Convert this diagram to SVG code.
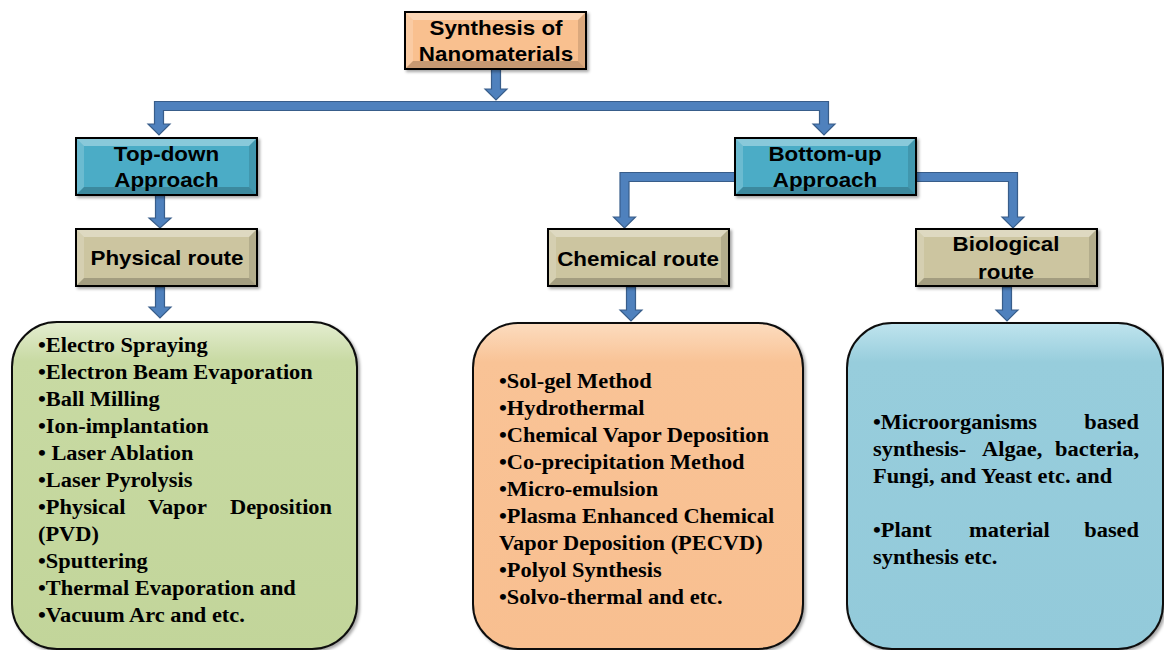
<svg xmlns="http://www.w3.org/2000/svg" xmlns:xlink="http://www.w3.org/1999/xlink" width="1164" height="650" viewBox="0 0 1164 650">
<style>
.lbl{font-family:"Liberation Sans",Arial,sans-serif;font-weight:bold;font-size:20px;fill:#000;text-anchor:middle}
.lst{font-family:"Liberation Serif","Times New Roman",serif;font-weight:bold;font-size:20px;fill:#000}
.box{stroke:#000;stroke-width:2}
.rbox{stroke:#111;stroke-width:2}
.bt{fill:#fff;opacity:.35}
.bl{fill:#fff;opacity:.18}
.br{fill:#000;opacity:.12}
.bb{fill:#000;opacity:.2}
.conn{fill:#4F81BD;stroke:#385D8A;stroke-width:1.2;stroke-linejoin:miter}
</style>
<defs>
<filter id="sh" x="-10%" y="-10%" width="130%" height="130%">
<feDropShadow dx="2" dy="2" stdDeviation="1.5" flood-color="#000" flood-opacity="0.35"/>
</filter>
<g id="bevel">
<polygon class="bt" points="0,0 181,0 173,8 8,8"/>
<polygon class="bl" points="0,0 8,8 8,49 0,57"/>
<polygon class="br" points="181,0 181,57 173,49 173,8"/>
<polygon class="bb" points="0,57 8,49 173,49 181,57"/>
</g>
<linearGradient id="gGreen" x1="0" y1="0" x2="0" y2="1">
<stop offset="0" stop-color="#E4EDD0"/><stop offset="0.12" stop-color="#C8DAA3"/><stop offset="1" stop-color="#C2D59A"/>
</linearGradient>
<linearGradient id="gOrange" x1="0" y1="0" x2="0" y2="1">
<stop offset="0" stop-color="#FCDCBF"/><stop offset="0.12" stop-color="#F9C396"/><stop offset="1" stop-color="#F8BF90"/>
</linearGradient>
<linearGradient id="gBlue" x1="0" y1="0" x2="0" y2="1">
<stop offset="0" stop-color="#BFE4EE"/><stop offset="0.12" stop-color="#97CDDC"/><stop offset="1" stop-color="#93CADA"/>
</linearGradient>
</defs>
<rect width="1164" height="650" fill="#fff"/>

<g id="connectors">
<path class="conn" d="M491.5,68 H500.5 V89 H507 L496,100 L485,89 H491.5 Z"/>
<path class="conn" d="M154.5,124 V101.5 H828.5 V124 H835 L824,135 L813,124 H819.5 V110.5 H163.5 V124 H170 L159,135 L148,124 Z"/>
<path class="conn" d="M155.5,195 V218 H149 L160,228 L171,218 H164.5 V195 Z"/>
<path class="conn" d="M155.5,287 V307 H149 L160,318 L171,307 H164.5 V287 Z"/>
<path class="conn" d="M735,172.5 H620 V217 H613.5 L624.5,228 L635.5,217 H629 V181.5 H735 Z"/>
<path class="conn" d="M915,172.5 H1017.5 V217 H1024 L1013,228 L1002,217 H1008.5 V181.5 H915 Z"/>
<path class="conn" d="M626.5,287 V310 H620 L631,321 L642,310 H635.5 V287 Z"/>
<path class="conn" d="M1002.5,287 V310 H996 L1007,321 L1018,310 H1011.5 V287 Z"/>
</g>

<g id="synthesis">
<rect class="box" x="405" y="12" width="181" height="57" fill="#F9C08F" filter="url(#sh)"/>
<use xlink:href="#bevel" x="405" y="12"/>
<rect x="405" y="12" width="181" height="57" fill="none" stroke="#000" stroke-width="2"/>
<text class="lbl" transform="scale(1.12 1)"><tspan x="442.86" y="35">Synthesis of</tspan><tspan x="442.86" y="61">Nanomaterials</tspan></text>
</g>

<g id="topdown">
<rect class="box" x="76" y="138" width="181" height="57" fill="#4BACC6" filter="url(#sh)"/>
<use xlink:href="#bevel" x="76" y="138"/>
<rect x="76" y="138" width="181" height="57" fill="none" stroke="#000" stroke-width="2"/>
<text class="lbl" transform="scale(1.12 1)"><tspan x="148.66" y="161">Top-down</tspan><tspan x="148.66" y="187">Approach</tspan></text>
</g>

<g id="bottomup">
<rect class="box" x="735" y="138" width="181" height="57" fill="#4BACC6" filter="url(#sh)"/>
<use xlink:href="#bevel" x="735" y="138"/>
<rect x="735" y="138" width="181" height="57" fill="none" stroke="#000" stroke-width="2"/>
<text class="lbl" transform="scale(1.12 1)"><tspan x="736.61" y="161">Bottom-up</tspan><tspan x="736.61" y="187">Approach</tspan></text>
</g>

<g id="physical">
<rect class="box" x="76" y="229" width="181" height="57" fill="#CCC5A0" filter="url(#sh)"/>
<use xlink:href="#bevel" x="76" y="229"/>
<rect x="76" y="229" width="181" height="57" fill="none" stroke="#000" stroke-width="2"/>
<text class="lbl" transform="scale(1.12 1)" x="149.11" y="265">Physical route</text>
</g>

<g id="chemical">
<rect class="box" x="548" y="229" width="181" height="57" fill="#CCC5A0" filter="url(#sh)"/>
<use xlink:href="#bevel" x="548" y="229"/>
<rect x="548" y="229" width="181" height="57" fill="none" stroke="#000" stroke-width="2"/>
<text class="lbl" transform="scale(1.12 1)" x="569.64" y="266">Chemical route</text>
</g>

<g id="biological">
<rect class="box" x="916" y="229" width="181" height="57" fill="#CCC5A0" filter="url(#sh)"/>
<use xlink:href="#bevel" x="916" y="229"/>
<rect x="916" y="229" width="181" height="57" fill="none" stroke="#000" stroke-width="2"/>
<text class="lbl" transform="scale(1.12 1)"><tspan x="898.21" y="251">Biological</tspan><tspan x="898.21" y="279">route</tspan></text>
</g>

<g id="physical-methods">
<rect class="rbox" x="12" y="322" width="345" height="327" rx="45" ry="45" fill="url(#gGreen)" filter="url(#sh)"/>
<text class="lst" transform="scale(1.12 1)"><tspan x="33.93" y="352">•Electro Spraying</tspan><tspan x="33.93" y="379">•Electron Beam Evaporation</tspan><tspan x="33.93" y="406">•Ball Milling</tspan><tspan x="33.93" y="433">•Ion-implantation</tspan><tspan x="33.93" y="460">• Laser Ablation</tspan><tspan x="33.93" y="487">•Laser Pyrolysis</tspan><tspan x="33.93" y="514">•Physical</tspan><tspan x="132.14" y="514">Vapor</tspan><tspan x="296.43" y="514" text-anchor="end">Deposition</tspan><tspan x="33.93" y="541">(PVD)</tspan><tspan x="33.93" y="568">•Sputtering</tspan><tspan x="33.93" y="595">•Thermal Evaporation and</tspan><tspan x="33.93" y="622">•Vacuum Arc and etc.</tspan></text>
</g>

<g id="chemical-methods">
<rect class="rbox" x="473" y="323" width="330" height="326" rx="45" ry="45" fill="url(#gOrange)" filter="url(#sh)"/>
<text class="lst" transform="scale(1.12 1)"><tspan x="445.54" y="388">•Sol-gel Method</tspan><tspan x="445.54" y="415">•Hydrothermal</tspan><tspan x="445.54" y="442">•Chemical Vapor Deposition</tspan><tspan x="445.54" y="469">•Co-precipitation Method</tspan><tspan x="445.54" y="496">•Micro-emulsion</tspan><tspan x="445.54" y="523">•Plasma Enhanced Chemical</tspan><tspan x="445.54" y="550">Vapor Deposition (PECVD)</tspan><tspan x="445.54" y="577">•Polyol Synthesis</tspan><tspan x="445.54" y="604">•Solvo-thermal and etc.</tspan></text>
</g>

<g id="biological-methods">
<rect class="rbox" x="847" y="323" width="316" height="326" rx="45" ry="45" fill="url(#gBlue)" filter="url(#sh)"/>
<text class="lst" transform="scale(1.12 1)"><tspan x="779.46" y="429">•Microorganisms</tspan><tspan x="1016.96" y="429" text-anchor="end">based</tspan><tspan x="779.46" y="456">synthesis-</tspan><tspan x="876.79" y="456">Algae,</tspan><tspan x="1016.96" y="456" text-anchor="end">bacteria,</tspan><tspan x="779.46" y="483">Fungi, and Yeast etc. and</tspan><tspan x="779.46" y="537">•Plant</tspan><tspan x="865.18" y="537">material</tspan><tspan x="1016.96" y="537" text-anchor="end">based</tspan><tspan x="779.46" y="564">synthesis etc.</tspan></text>
</g>
</svg>
